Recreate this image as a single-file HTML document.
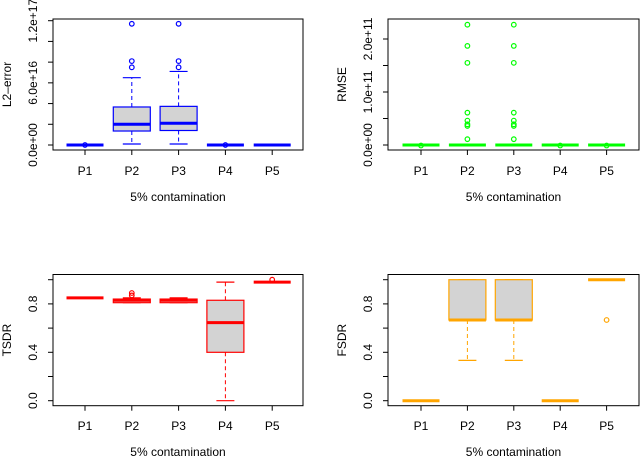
<!DOCTYPE html>
<html><head><meta charset="utf-8"><style>
body{margin:0;background:#fff}
svg{display:block;font-family:"Liberation Sans",Arial,sans-serif}
</style></head><body>
<svg id="chart" width="640" height="458" viewBox="0 0 640 458" xmlns="http://www.w3.org/2000/svg"></svg>
<script>
const categories = ["P1","P2","P3","P4","P5"];
// L2-error in units of 1e16
const l2Q1 = [0,1.35,1.4,0,0];
const l2Med = [0,2.0,2.1,0,0];
const l2Q3 = [0,3.67,3.73,0,0];
const l2Lo = [0,0.1,0.1,0,0];
const l2Hi = [0,6.5,7.1,0,0];
const l2Out = [[0],[11.7,8.1,7.5],[11.7,8.1,7.5],[0],[]];
const l2Ticks = [0,2,4,6,8,10,12];
const l2TickLabels = {0:"0.0e+00",6:"6.0e+16",12:"1.2e+17"};
// RMSE in units of 1e10
const rmQ1 = [0,0,0,0,0];
const rmMed = [0,0,0,0,0];
const rmQ3 = [0,0,0,0,0];
const rmLo = [0,0,0,0,0];
const rmHi = [0,0,0,0,0];
const rmOut = [[-0.1],[22.7,18.7,15.5,6.1,4.6,3.9,3.6,1.1],[22.7,18.7,15.5,6.1,4.6,3.9,3.6,1.1],[-0.1],[-0.1]];
const rmTicks = [0,5,10,15,20];
const rmTickLabels = {0:"0.0e+00",10:"1.0e+11",20:"2.0e+11"};
// TSDR
const tsQ1 = [0.85,0.81,0.81,0.40,0.98];
const tsMed = [0.85,0.83,0.83,0.645,0.98];
const tsQ3 = [0.85,0.84,0.84,0.83,0.98];
const tsLo = [0.85,0.81,0.81,0,0.98];
const tsHi = [0.85,0.85,0.85,0.98,0.98];
const tsOut = [[],[0.87,0.89],[],[],[1.0]];
// FSDR
const fsQ1 = [0,0.667,0.667,0,1];
const fsMed = [0,0.667,0.667,0,1];
const fsQ3 = [0,1,1,0,1];
const fsLo = [0,0.333,0.333,0,1];
const fsHi = [0,1,1,0,1];
const fsOut = [[],[],[],[],[0.667]];
const rateTicks = [0,0.2,0.4,0.6,0.8,1.0];
const rateTickLabels = {0:"0.0",0.4:"0.4",0.8:"0.8"};

const svg = document.getElementById('chart');
const NS = "http://www.w3.org/2000/svg";
function mk(tag, attrs, parent){
  const e = document.createElementNS(NS, tag);
  for (const k in attrs) e.setAttribute(k, attrs[k]);
  (parent||svg).appendChild(e);
  return e;
}
function panel(p){
  const g = mk('g', {});
  
  
  const ys = v => p.py0 + (v - p.v0) * (p.py1 - p.py0) / (p.v1 - p.v0);
  const xs = i => p.cx0 + i * p.step;
  p.ticks.forEach(t => {
    const y = ys(t);
    const tk = mk('line', {x1:p.bx0-5, x2:p.bx0, y1:y, y2:y, stroke:'#000', 'stroke-width':1}, g);
    
    
    if (p.labels[t] !== undefined) {
      const lx = p.bx0-16;
      const tx = mk('text', {x:lx, y:y, 'font-size':12, 'text-anchor':'middle', transform:`rotate(-90 ${lx} ${y})`}, g);
      
      
      tx.textContent = p.labels[t];
    }
  });
  const yt = mk('text', {x:p.titleX, y:(p.by0+p.by1)/2, 'font-size':12, 'text-anchor':'middle', transform:`rotate(-90 ${p.titleX} ${(p.by0+p.by1)/2})`}, g);
  
  
  yt.textContent = p.ytitle;
  categories.forEach((c, i) => {
    const x = xs(i);
    const bg = mk('g', {}, g);
    
    
    const col = p.color;
    mk('line', {x1:x, x2:x, y1:ys(p.q3[i]), y2:ys(p.hi[i]), stroke:col, 'stroke-dasharray':'4 3'}, bg);
    mk('line', {x1:x, x2:x, y1:ys(p.q1[i]), y2:ys(p.lo[i]), stroke:col, 'stroke-dasharray':'4 3'}, bg);
    mk('line', {x1:x-9, x2:x+9, y1:ys(p.hi[i]), y2:ys(p.hi[i]), stroke:col, 'stroke-width':1.2}, bg);
    mk('line', {x1:x-9, x2:x+9, y1:ys(p.lo[i]), y2:ys(p.lo[i]), stroke:col, 'stroke-width':1.2}, bg);
    const top = ys(p.q3[i]), bot = ys(p.q1[i]);
    mk('rect', {x:x-18.5, y:top, width:37, height:Math.max(0, bot-top), fill:'#d3d3d3', stroke:col, 'stroke-width':1.2}, bg);
    mk('line', {x1:x-18.5, x2:x+18.5, y1:ys(p.med[i]), y2:ys(p.med[i]), stroke:col, 'stroke-width':3}, bg);
    p.out[i].forEach(v => {
      const o = mk('circle', {cx:x, cy:ys(v), r:2.3, fill:'none', stroke:col, 'stroke-width':1.2}, bg);
      
      
    });
    mk('line', {x1:x, x2:x, y1:p.by1, y2:p.by1+5, stroke:'#000'}, g);
    const xl = mk('text', {x:x, y:p.xlabY, 'font-size':12, 'text-anchor':'middle'}, g);
    
    
    xl.textContent = c;
  });
  const fr = mk('rect', {x:p.bx0, y:p.by0, width:p.bx1-p.bx0, height:p.by1-p.by0, fill:'none', stroke:'#000', 'stroke-width':1}, g);
  
  
  const xt = mk('text', {x:(p.bx0+p.bx1)/2, y:p.xtitleY, 'font-size':12, 'text-anchor':'middle'}, g);
  
  
  xt.textContent = '5% contamination';
}
panel({name:'l2-error-panel', color:'#0000ff', ytitle:'L2\u2013error', bx0:53, bx1:303, by0:19, by1:150, cx0:85, step:46.8,
  v0:0, v1:12, py0:145, py1:20.7, ticks:l2Ticks, labels:l2TickLabels, titleX:11, xlabY:175, xtitleY:201,
  q1:l2Q1, med:l2Med, q3:l2Q3, lo:l2Lo, hi:l2Hi, out:l2Out});
panel({name:'rmse-panel', color:'#00ff00', ytitle:'RMSE', bx0:388, bx1:639, by0:19, by1:150, cx0:421, step:46.4,
  v0:0, v1:20, py0:145, py1:39, ticks:rmTicks, labels:rmTickLabels, titleX:346, xlabY:175, xtitleY:201,
  q1:rmQ1, med:rmMed, q3:rmQ3, lo:rmLo, hi:rmHi, out:rmOut});
panel({name:'tsdr-panel', color:'#ff0000', ytitle:'TSDR', bx0:53, bx1:303, by0:274.5, by1:405.7, cx0:85, step:46.8,
  v0:0, v1:1, py0:400.7, py1:279.7, ticks:rateTicks, labels:rateTickLabels, titleX:11, xlabY:430, xtitleY:456,
  q1:tsQ1, med:tsMed, q3:tsQ3, lo:tsLo, hi:tsHi, out:tsOut});
panel({name:'fsdr-panel', color:'#ffa500', ytitle:'FSDR', bx0:388, bx1:639, by0:274.5, by1:405.7, cx0:421, step:46.4,
  v0:0, v1:1, py0:400.7, py1:279.7, ticks:rateTicks, labels:rateTickLabels, titleX:346, xlabY:430, xtitleY:456,
  q1:fsQ1, med:fsMed, q3:fsQ3, lo:fsLo, hi:fsHi, out:fsOut});
</script>
</body></html>
